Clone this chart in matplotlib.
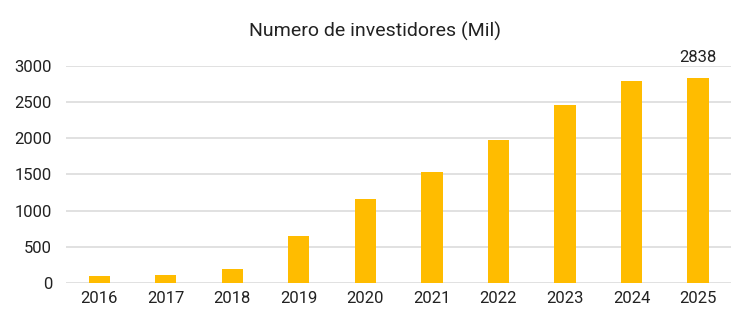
import matplotlib.pyplot as plt

# Data
years = ['2016', '2017', '2018', '2019', '2020', '2021', '2022', '2023', '2024', '2025']
investidores = [90, 115, 200, 650, 1160, 1540, 1970, 2455, 2790, 2838]

plt.rcParams['font.family'] = ['Roboto', 'DejaVu Sans']

fig = plt.figure(figsize=(7.5, 3.27), dpi=100)
ax = fig.add_axes([0.088, 0.1346, 0.887, 0.6636])

x = range(len(years))
ax.bar(x, investidores, width=0.32, color='#FFBC00', zorder=3)

ax.set_xlim(-0.5, len(years) - 0.5)
ax.set_ylim(0, 3000)
ax.set_yticks([0, 500, 1000, 1500, 2000, 2500, 3000])
ax.set_xticks(list(x))
ax.set_xticklabels(years)
ax.tick_params(axis='both', length=0, labelsize=12, colors='#222222')
ax.tick_params(axis='y', pad=10)
ax.tick_params(axis='x', pad=6)

ax.grid(axis='y', color='#d9d9d9', linewidth=1.1, zorder=0)
for s in ax.spines.values():
    s.set_visible(False)

# label on the last bar only
ax.annotate(str(investidores[-1]), (len(years) - 1, investidores[-1]),
            xytext=(0, 9), textcoords='offset points',
            ha='center', va='bottom', fontsize=12, color='#222222')

fig.text(0.5, 0.905, 'Numero de investidores (Mil)', ha='center', va='center',
         fontsize=14, color='#222222')

fig.savefig('out.png', dpi=100)
